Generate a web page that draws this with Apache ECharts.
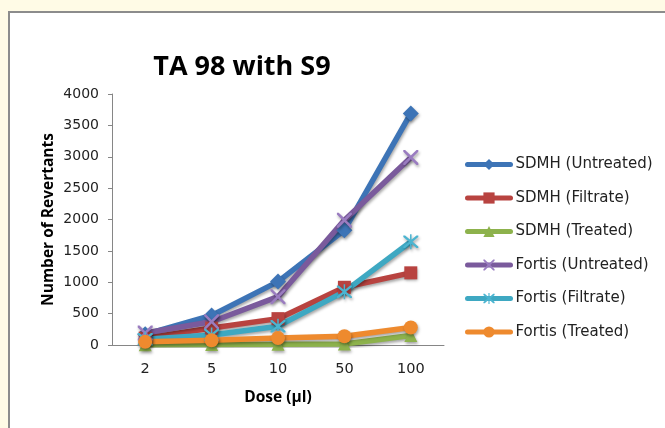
<!DOCTYPE html>
<html><head><meta charset="utf-8">
<script src="https://cdn.jsdelivr.net/npm/echarts@6/dist/echarts.min.js"></script>
<style>html,body{margin:0;padding:0;background:#fffbe6;}#c{width:665px;height:428px;}</style>
</head><body><div id="c"></div>
<script>
const categories = ['2','5','10','50','100'];
const sdmhUntreated = [170, 470, 1010, 1830, 3690];
const sdmhFiltrate = [110, 270, 420, 920, 1150];
const sdmhTreated = [5, 8, 10, 15, 150];
const fortisUntreated = [190, 370, 770, 1990, 2990];
const fortisFiltrate = [90, 160, 300, 850, 1645];
const fortisTreated = [50, 75, 110, 140, 280];
const yTicks = [0, 500, 1000, 1500, 2000, 2500, 3000, 3500, 4000];

const X_PATH = 'path://M0,0 L1.2,0 L5,3.8 L8.8,0 L10,0 L10,1.2 L6.2,5 L10,8.8 L10,10 L8.8,10 L5,6.2 L1.2,10 L0,10 L0,8.8 L3.8,5 L0,1.2 Z';
const STAR_PATH = 'path://M0,0 L1.2,0 L5,3.8 L8.8,0 L10,0 L10,1.2 L6.2,5 L10,8.8 L10,10 L8.8,10 L5,6.2 L1.2,10 L0,10 L0,8.8 L3.8,5 L0,1.2 Z M4.5,-1 L5.5,-1 L5.5,11 L4.5,11 Z';

const chart = echarts.init(document.getElementById('c'), null, {renderer:'canvas'});
const shadow = {shadowBlur:3, shadowColor:'rgba(0,0,0,0.35)', shadowOffsetX:1, shadowOffsetY:2};
function mk(name, data, color, symbol, size, markerColor){
  return {
    name, type:'line', data, symbol, symbolSize:size,
    lineStyle:Object.assign({width:5.5, color}, shadow),
    itemStyle:Object.assign({color:markerColor||color, borderWidth:0}, shadow),
    animation:false
  };
}
chart.setOption({
  backgroundColor:'transparent',
  graphic:[
    {type:'rect', shape:{x:9, y:12, width:700, height:500}, style:{fill:'#ffffff', stroke:'#8c8c8c', lineWidth:2}, z:-10}
  ],
  title:{text:'TA 98 with S9', left:237, top:49, textAlign:'center',
    textStyle:{fontFamily:'Open Sans', fontWeight:'bold', fontSize:27, color:'#000'}},
  legend:{
    orient:'vertical', left:460, top:152, itemWidth:43, itemHeight:14, itemGap:18.5,
    lineStyle:{width:5, cap:'round', shadowBlur:0, shadowOffsetX:0, shadowOffsetY:0},
    itemStyle:{shadowBlur:0, shadowOffsetX:0, shadowOffsetY:0},
    textStyle:{fontFamily:'DejaVu Sans', fontSize:15, color:'#222'},
    data:['SDMH (Untreated)','SDMH (Filtrate)','SDMH (Treated)','Fortis (Untreated)','Fortis (Filtrate)','Fortis (Treated)']
  },
  grid:{left:112, top:94, width:332, height:251, containLabel:false},
  xAxis:{
    type:'category', data:categories, boundaryGap:true,
    axisLine:{lineStyle:{color:'#868686', width:1}},
    axisTick:{show:false},
    axisLabel:{fontFamily:'DejaVu Sans', fontSize:14.5, color:'#222', margin:17},
    name:'Dose (µl)', nameLocation:'middle', nameGap:45,
    nameTextStyle:{fontFamily:'Open Sans', fontWeight:'bold', fontSize:15.5, color:'#000'}
  },
  yAxis:{
    type:'value', min:yTicks[0], max:yTicks[yTicks.length-1], interval:500,
    axisLine:{show:true, lineStyle:{color:'#868686', width:1}},
    axisTick:{show:true, length:4, lineStyle:{color:'#868686'}},
    splitLine:{show:false},
    axisLabel:{fontFamily:'DejaVu Sans', fontSize:14, color:'#222', margin:13, formatter:v=>String(v)},
    name:'Number of Revertants', nameLocation:'middle', nameGap:55,
    nameTextStyle:{fontFamily:'Open Sans', fontWeight:'bold', fontSize:15.5, color:'#000'}
  },
  series:[
    mk('SDMH (Untreated)', sdmhUntreated, '#3d74b6', 'diamond', 16),
    mk('SDMH (Filtrate)', sdmhFiltrate, '#b84340', 'rect', 13),
    mk('SDMH (Treated)', sdmhTreated, '#8db24c', 'triangle', 13),
    mk('Fortis (Untreated)', fortisUntreated, '#7a5a9c', X_PATH, 15, '#9a7cc0'),
    mk('Fortis (Filtrate)', fortisFiltrate, '#3ea8c2', STAR_PATH, 15, '#4bb4d0'),
    mk('Fortis (Treated)', fortisTreated, '#ee8a2e', 'circle', 14)
  ]
});
</script></body></html>
